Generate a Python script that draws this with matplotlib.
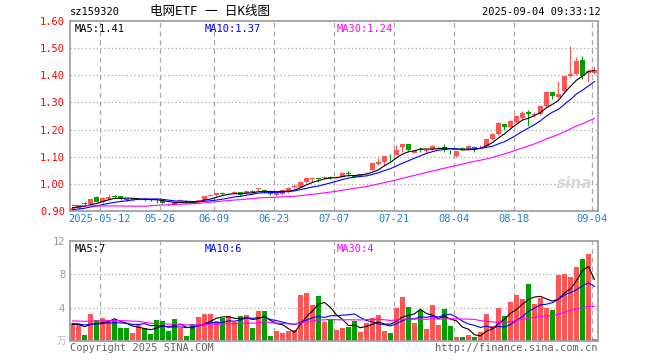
import numpy as np
import matplotlib
matplotlib.use("Agg")
from matplotlib import pyplot as plt

plt.rcParams['font.family'] = ['DejaVu Sans Mono', 'Noto Sans CJK SC']

# daily candles, 2025-04-30 .. 2025-09-04
opens = [0.905, 0.911, 0.928, 0.926, 0.950, 0.934, 0.944, 0.955, 0.955, 0.945,
         0.942, 0.942, 0.946, 0.943, 0.941, 0.936, 0.927, 0.930, 0.938, 0.938,
         0.936, 0.935, 0.941, 0.957, 0.958, 0.966, 0.961, 0.967, 0.969, 0.965,
         0.972, 0.980, 0.977, 0.967, 0.958, 0.961, 0.969, 0.990, 0.989, 1.007,
         1.018, 1.021, 1.023, 1.024, 1.024, 1.026, 1.040, 1.030, 1.030, 1.039,
         1.052, 1.072, 1.081, 1.097, 1.108, 1.136, 1.146, 1.115, 1.128, 1.121,
         1.127, 1.135, 1.136, 1.119, 1.102, 1.133, 1.130, 1.135, 1.138, 1.139,
         1.164, 1.183, 1.220, 1.208, 1.227, 1.242, 1.264, 1.255, 1.257, 1.286,
         1.338, 1.320, 1.342, 1.396, 1.404, 1.455, 1.408, 1.408]
closes = [0.911, 0.919, 0.926, 0.945, 0.935, 0.948, 0.952, 0.953, 0.944, 0.941,
          0.944, 0.944, 0.940, 0.941, 0.939, 0.930, 0.925, 0.923, 0.940, 0.932,
          0.934, 0.940, 0.955, 0.959, 0.965, 0.964, 0.963, 0.969, 0.958, 0.975,
          0.970, 0.984, 0.969, 0.963, 0.968, 0.977, 0.985, 0.992, 1.007, 1.021,
          1.021, 1.019, 1.025, 1.022, 1.027, 1.041, 1.038, 1.025, 1.035, 1.041,
          1.076, 1.081, 1.102, 1.095, 1.124, 1.146, 1.124, 1.121, 1.126, 1.126,
          1.141, 1.137, 1.128, 1.117, 1.120, 1.125, 1.139, 1.133, 1.140, 1.164,
          1.183, 1.225, 1.208, 1.232, 1.249, 1.261, 1.259, 1.257, 1.286, 1.340,
          1.323, 1.330, 1.396, 1.406, 1.453, 1.399, 1.416, 1.418]
highs = [0.913, 0.921, 0.934, 0.947, 0.955, 0.950, 0.964, 0.959, 0.957, 0.947,
         0.948, 0.946, 0.947, 0.946, 0.944, 0.938, 0.931, 0.932, 0.944, 0.940,
         0.938, 0.942, 0.957, 0.964, 0.966, 0.971, 0.966, 0.973, 0.971, 0.977,
         0.976, 0.985, 0.982, 0.969, 0.970, 0.978, 0.987, 0.999, 1.009, 1.024,
         1.022, 1.022, 1.030, 1.028, 1.029, 1.043, 1.047, 1.032, 1.037, 1.045,
         1.078, 1.096, 1.104, 1.110, 1.143, 1.147, 1.148, 1.123, 1.134, 1.128,
         1.143, 1.141, 1.148, 1.124, 1.122, 1.135, 1.141, 1.139, 1.145, 1.166,
         1.185, 1.227, 1.222, 1.234, 1.251, 1.270, 1.272, 1.266, 1.288, 1.342,
         1.340, 1.379, 1.398, 1.507, 1.467, 1.472, 1.423, 1.433]
lows = [0.903, 0.909, 0.918, 0.924, 0.932, 0.931, 0.942, 0.948, 0.942, 0.938,
        0.936, 0.940, 0.938, 0.938, 0.930, 0.925, 0.921, 0.921, 0.936, 0.930,
        0.932, 0.933, 0.939, 0.954, 0.956, 0.958, 0.958, 0.963, 0.954, 0.963,
        0.966, 0.972, 0.967, 0.960, 0.954, 0.959, 0.967, 0.984, 0.987, 1.005,
        1.008, 1.006, 1.018, 1.017, 1.022, 1.024, 1.029, 1.023, 1.028, 1.035,
        1.050, 1.070, 1.066, 1.085, 1.106, 1.118, 1.122, 1.112, 1.119, 1.113,
        1.125, 1.131, 1.118, 1.110, 1.100, 1.123, 1.128, 1.117, 1.135, 1.137,
        1.162, 1.181, 1.198, 1.206, 1.225, 1.240, 1.212, 1.247, 1.255, 1.284,
        1.312, 1.316, 1.340, 1.394, 1.402, 1.386, 1.375, 1.406]
# volume in 万手
volumes = [2.16, 1.88, 0.68, 3.20, 2.48, 2.72, 2.56, 2.40, 1.52, 1.52,
           0.96, 1.88, 1.60, 0.80, 2.48, 2.36, 1.16, 2.60, 1.56, 0.56,
           2.00, 2.84, 3.20, 3.20, 2.40, 2.80, 2.96, 2.28, 2.96, 3.08,
           1.60, 3.56, 3.56, 0.56, 1.16, 0.92, 1.20, 1.28, 5.52, 5.72,
           4.28, 5.36, 2.24, 2.56, 1.28, 1.52, 1.68, 2.40, 1.08, 2.12,
           2.72, 3.08, 1.20, 0.92, 3.96, 5.24, 4.04, 2.12, 3.68, 1.40,
           4.28, 1.88, 3.80, 1.76, 0.44, 0.44, 0.68, 0.44, 1.08, 3.24,
           1.76, 3.96, 2.96, 4.68, 5.48, 5.00, 6.80, 4.40, 5.12, 3.96,
           3.68, 7.92, 8.04, 7.64, 8.84, 9.80, 10.40, 0.20]
# 29 sessions before the window, only used for the moving averages (estimated)
prior_closes = [0.955, 0.950, 0.948, 0.945, 0.950, 0.948, 0.952, 0.955, 0.950, 0.946,
                0.948, 0.950, 0.895, 0.885, 0.890, 0.898, 0.903, 0.908, 0.900, 0.905,
                0.895, 0.900, 0.898, 0.896, 0.901, 0.905, 0.915, 0.912, 0.918]
prior_volumes = [2.0, 1.8, 2.2, 1.9, 2.1, 2.4, 2.0, 1.7, 2.3, 2.1,
                 2.6, 4.8, 4.2, 3.6, 3.0, 2.8, 2.5, 2.7, 2.2, 2.1,
                 2.4, 2.0, 2.3, 2.1, 2.2, 1.9, 2.1, 1.8, 2.04]
date_labels = ['2025-05-12', '05-26', '06-09', '06-23', '07-07', '07-21', '08-04', '08-18', '09-04']
date_index = [5, 15, 24, 34, 44, 54, 64, 74, 87]
price_ticks = [0.90, 1.00, 1.10, 1.20, 1.30, 1.40, 1.50, 1.60]
volume_ticks = [4, 8, 12]

RED = '#ff5555'
GREEN = '#00a000'
BOX = '#a0a0a0'
GRID = '#a8a8a8'
MA_COLORS = {5: 'black', 10: '#0000ff', 30: '#ff00ff'}


def moving_average(prior, values, n):
    full = np.array(prior + values)
    k = len(prior)
    return np.array([full[k + i - n + 1:k + i + 1].mean() for i in range(len(values))])


def style_box(ax, vlines):
    for s in ax.spines.values():
        s.set_color(BOX)
        s.set_linewidth(1.3)
    ax.tick_params(length=0)
    for i in vlines:
        ax.axvline(i - 0.42, color=GRID, ls=(0, (4, 3)), lw=0.9, zorder=0)


def draw_candles(ax):
    x = np.arange(len(closes))
    o = np.array(opens)
    c = np.array(closes)
    colors = [RED if cc >= oo else GREEN for oo, cc in zip(o, c)]
    ax.vlines(x, lows, highs, colors=colors, lw=0.8, zorder=2)
    body = np.maximum(np.abs(c - o), 0.0015)
    ax.bar(x, body, bottom=np.minimum(o, c), width=0.83, color=colors, zorder=3)
    for n in (5, 10, 30):
        ax.plot(x, moving_average(prior_closes, closes, n), color=MA_COLORS[n], lw=0.8, zorder=4)


fig = plt.figure(figsize=(6.6, 3.6), dpi=100)
ax1 = fig.add_axes([70 / 660, 1 - 211 / 360, 528 / 660, 190 / 360])
ax2 = fig.add_axes([70 / 660, 1 - 341 / 360, 528 / 660, 100 / 360])
xlim = (-0.42, 87.6)

# price panel
draw_candles(ax1)
ax1.set_xlim(xlim)
ax1.set_ylim(0.90, 1.60)
ax1.set_yticks(price_ticks)
ax1.set_yticklabels(['%.2f' % p for p in price_ticks], color='red', fontsize=7.5)
for p in price_ticks[1:-1]:
    ax1.axhline(p, color=GRID, ls=(0, (1, 2)), lw=0.9, zorder=0)
ax1.set_xticks([i - 0.42 for i in date_index])
ax1.set_xticklabels(date_labels, color='#1a7fd4', fontsize=7.5)
ax1.tick_params(axis='x', pad=2)
style_box(ax1, date_index)

ma5 = moving_average(prior_closes, closes, 5)[-1]
ma10 = moving_average(prior_closes, closes, 10)[-1]
ma30 = moving_average(prior_closes, closes, 30)[-1]
ax1.text(0.008, 0.985, 'MA5:%.2f' % (int(ma5 * 100) / 100), transform=ax1.transAxes, va='top', fontsize=7.5, color='black')
ax1.text(0.255, 0.985, 'MA10:%.2f' % (int(ma10 * 100) / 100), transform=ax1.transAxes, va='top', fontsize=7.5, color='#0000ff')
ax1.text(0.505, 0.985, 'MA30:%.2f' % (int(ma30 * 100) / 100), transform=ax1.transAxes, va='top', fontsize=7.5, color='#ff00ff')
ax1.text(0.955, 0.12, 'sina', transform=ax1.transAxes, ha='center', fontsize=11, color='#d8d8d8',
         style='italic', weight='bold', family='DejaVu Sans')

# volume panel
x = np.arange(len(volumes))
vcolors = [RED if cc >= oo else GREEN for oo, cc in zip(opens, closes)]
ax2.bar(x, volumes, width=0.83, color=vcolors, zorder=2)
for n in (5, 10, 30):
    ax2.plot(x, moving_average(prior_volumes, volumes, n), color=MA_COLORS[n], lw=0.8, zorder=3)
ax2.set_xlim(xlim)
ax2.set_ylim(0, 12)
ax2.set_yticks(volume_ticks)
ax2.set_yticklabels([str(v) for v in volume_ticks], color='#999999', fontsize=7.5)
for v in volume_ticks[:-1]:
    ax2.axhline(v, color=GRID, ls=(0, (1, 2)), lw=0.9, zorder=0)
ax2.set_xticks([])
style_box(ax2, [i for i in date_index if i != 24])

vma5 = moving_average(prior_volumes, volumes, 5)[-1]
vma10 = moving_average(prior_volumes, volumes, 10)[-1]
vma30 = moving_average(prior_volumes, volumes, 30)[-1]
ax2.text(0.008, 0.97, 'MA5:%d' % vma5, transform=ax2.transAxes, va='top', fontsize=7.5, color='black')
ax2.text(0.255, 0.97, 'MA10:%d' % vma10, transform=ax2.transAxes, va='top', fontsize=7.5, color='#0000ff')
ax2.text(0.505, 0.97, 'MA30:%d' % vma30, transform=ax2.transAxes, va='top', fontsize=7.5, color='#ff00ff')

# header / footer
fig.text(70 / 660, 1 - 12 / 360, 'sz159320', fontsize=7.5, va='center', ha='left')
fig.text(210 / 660, 1 - 12 / 360, '电网ETF 一 日K线图', fontsize=9, va='center', ha='center')
fig.text(601 / 660, 1 - 12 / 360, '2025-09-04 09:33:12', fontsize=7.5, va='center', ha='right')
fig.text(70 / 660, 1 - 348 / 360, 'Copyright 2025 SINA.COM', fontsize=7.5, va='center', ha='left', color='#666666')
fig.text(598 / 660, 1 - 348 / 360, 'http://finance.sina.com.cn', fontsize=7.5, va='center', ha='right', color='#666666')
fig.text(66 / 660, 1 - 341 / 360, '万', fontsize=7, va='center', ha='right', color='#bbbbbb')

fig.savefig('out.png', dpi=100)
